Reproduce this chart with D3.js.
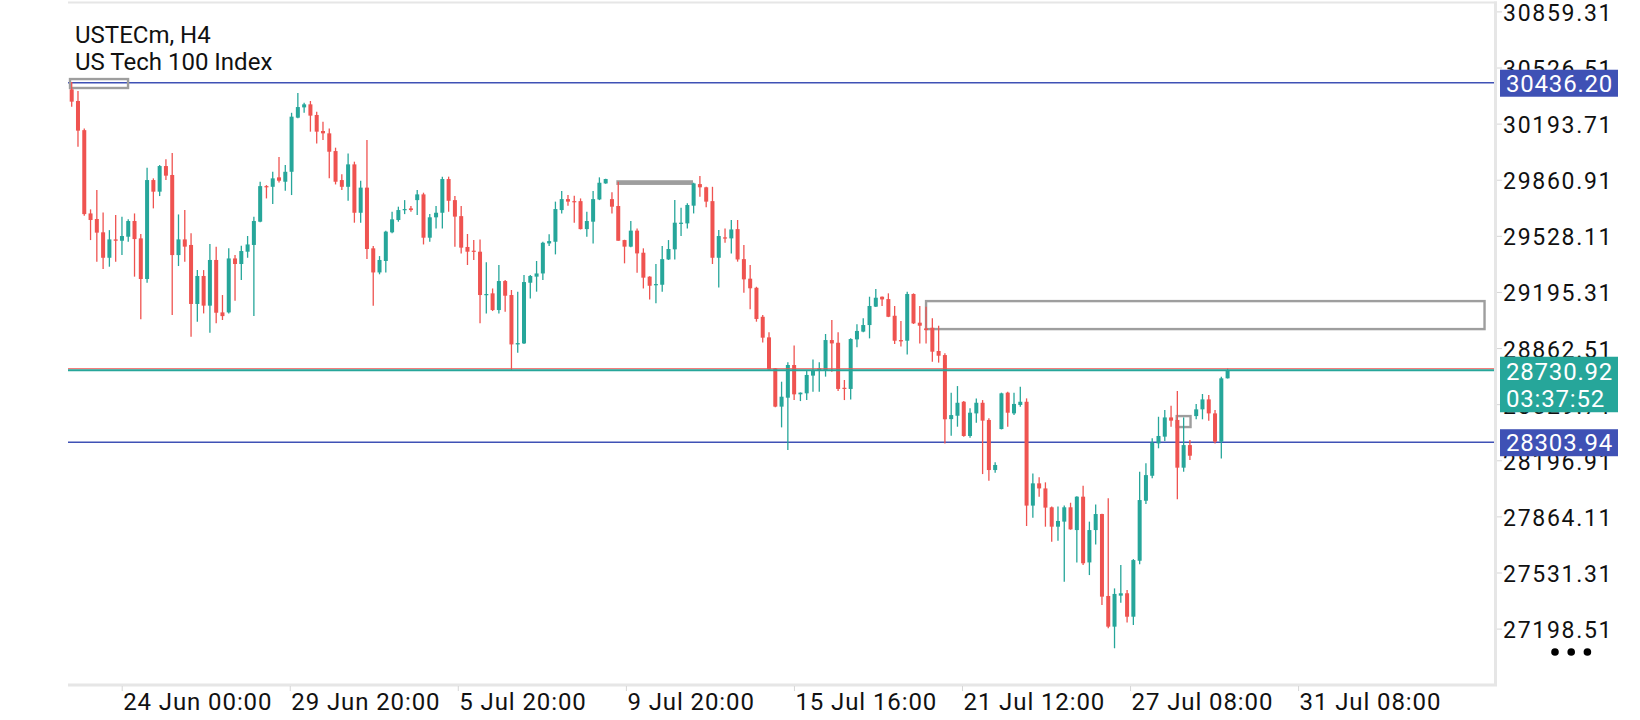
<!DOCTYPE html>
<html>
<head>
<meta charset="utf-8">
<script src="https://cdn.jsdelivr.net/npm/d3@7"></script>
<style>
  html, body { margin: 0; padding: 0; background: #fff; }
  svg text { font-family: Roboto, "Noto Sans", sans-serif; }
</style>
</head>
<body>
<svg id="chart" width="1640" height="720"></svg>
<script>
// --- data (one entry per bar) ---
const symbol = "USTECm, H4";
const description = "US Tech 100 Index";

const open = [
  30397,30328,30155,29661,29628,29549,29398,29507,29499,29523,29616,29513,29272,29859,29790,29942,29889,29414,29507,29474,
  29124,29290,29114,29385,29074,29074,29394,29361,29434,29474,29612,29823,29819,29875,29849,29908,30229,30290,30308,30245,
  30150,30136,30031,29859,29819,29952,29665,29814,29454,29311,29379,29549,29622,29681,29691,29740,29774,29517,29638,29665,
  29865,29740,29645,29462,29440,29434,29179,29187,29088,29260,29177,28884,28890,29250,29286,29305,29483,29493,29681,29746,
  29734,29734,29568,29612,29744,29839,29746,29705,29503,29464,29559,29428,29286,29238,29238,29388,29448,29602,29602,29707,
  29835,29816,29734,29398,29519,29513,29568,29390,29274,29220,29048,28926,28742,28515,28568,28762,28588,28594,28699,28732,
  28732,28910,28894,28627,28620,28914,28960,28999,29108,29167,29153,29054,28910,28906,29183,29013,28979,28983,28845,28821,
  28441,28461,28544,28341,28475,28538,28436,28139,28382,28598,28475,28525,28544,27928,28060,28030,27918,27803,27833,27918,
  27783,27981,27591,27783,27878,27392,27210,27394,27408,27269,27601,27957,28105,28297,28337,28451,28436,28153,28287,28459,
  28499,28558,28475,28307,28683
];
const high = [
  30440,30387,30165,29685,29800,29667,29562,29651,29642,29626,29661,29539,29932,29869,29948,29982,30019,29655,29681,29543,
  29325,29325,29479,29464,29177,29454,29414,29470,29527,29642,29849,29829,29908,29995,29948,30258,30375,30318,30328,30264,
  30205,30165,30051,29893,30017,29968,29855,30096,29468,29408,29559,29671,29701,29740,29705,29800,29784,29657,29705,29879,
  29879,29764,29705,29539,29503,29507,29371,29216,29355,29266,29207,29197,29296,29296,29379,29493,29537,29731,29794,29770,
  29766,29750,29671,29794,29875,29867,29786,29849,29505,29616,29572,29454,29288,29361,29468,29503,29740,29695,29721,29843,
  29883,29819,29819,29562,29572,29622,29622,29474,29355,29226,29058,28956,28744,28663,28778,28877,28599,28726,28795,28778,
  28946,29029,28956,28673,28920,29003,29039,29167,29213,29169,29187,29112,29023,29197,29187,29112,29108,29039,28995,28831,
  28598,28637,28548,28505,28564,28554,28446,28185,28598,28604,28598,28633,28564,28119,28096,28066,27922,27922,27928,27945,
  27983,28046,27833,27935,27880,27971,27437,27576,27427,27611,28129,28179,28327,28455,28495,28521,28608,28451,28317,28531,
  28590,28584,28495,28693,28741
];
const low = [
  30294,30057,29647,29503,29375,29331,29345,29375,29414,29493,29286,29033,29250,29691,29764,29859,29058,29349,29375,28930,
  29019,29068,28954,29009,29029,29068,29143,29266,29398,29052,29608,29750,29717,29845,29796,29770,30225,30258,30146,30076,
  30096,29869,29833,29800,29736,29606,29606,29390,29114,29300,29311,29543,29612,29657,29671,29651,29477,29493,29572,29572,
  29671,29464,29424,29355,29385,29009,29068,29082,29068,29078,28732,28835,28886,29157,29197,29266,29468,29418,29661,29707,
  29606,29566,29523,29483,29740,29837,29661,29499,29365,29461,29309,29216,29151,29128,29197,29385,29388,29527,29572,29661,
  29760,29697,29361,29222,29487,29424,29375,29191,29092,29019,28896,28732,28511,28392,28258,28554,28548,28554,28604,28604,
  28693,28722,28608,28554,28558,28867,28956,28920,29106,29112,29046,28886,28871,28825,29005,28890,28890,28782,28776,28297,
  28343,28396,28337,28331,28420,28115,28076,28123,28380,28396,28465,28515,27807,27856,27981,27803,27714,27720,27477,27785,
  27591,27576,27516,27698,27338,27200,27082,27352,27234,27220,27580,27937,28090,28268,28311,28396,27965,28129,28198,28440,
  28440,28432,28297,28208,28682
];
const close = [
  30324,30152,29657,29622,29547,29398,29507,29499,29527,29616,29509,29272,29859,29790,29942,29885,29414,29507,29464,29124,
  29290,29114,29385,29072,29052,29394,29361,29438,29477,29616,29823,29816,29869,29855,29908,30235,30292,30308,30241,30146,
  30136,30027,29849,29819,29952,29665,29814,29450,29311,29385,29553,29626,29681,29687,29681,29774,29517,29638,29665,29865,
  29736,29642,29458,29434,29436,29177,29183,29088,29260,29173,28884,28892,29254,29290,29305,29487,29497,29687,29746,29731,
  29731,29568,29616,29746,29843,29865,29701,29499,29464,29559,29424,29280,29232,29242,29390,29450,29606,29606,29711,29839,
  29816,29731,29398,29527,29513,29566,29388,29270,29217,29035,28924,28736,28515,28574,28762,28588,28598,28703,28732,28742,
  28910,28890,28620,28622,28916,28964,28999,29112,29161,29151,29048,28906,28902,29183,29009,28995,28969,28841,28817,28440,
  28465,28538,28341,28479,28538,28432,28139,28169,28594,28479,28531,28544,27928,28060,28030,27916,27803,27837,27918,27787,
  27981,27586,27783,27878,27388,27210,27404,27408,27269,27605,27961,28109,28301,28341,28451,28432,28153,28287,28224,28499,
  28558,28475,28307,28683,28730.92
];

const priceTicks = [30859.31, 30526.51, 30193.71, 29860.91, 29528.11, 29195.31,
                    28862.51, 28529.71, 28196.91, 27864.11, 27531.31, 27198.51];
const timeTickBars = [7.96, 34.71, 61.46, 88.22, 114.97, 141.72, 168.47, 195.22];
const timeTickLabels = ["24 Jun 00:00", "29 Jun 20:00", "5 Jul 20:00", "9 Jul 20:00",
                        "15 Jul 16:00", "21 Jul 12:00", "27 Jul 08:00", "31 Jul 08:00"];

const levelLines = [30436.20, 28303.94];
const bid = 28730.92, ask = 28739.8;
const countdown = "03:37:52";

// user drawn objects, in bar index / price units
const boxes = [
  {b0: -0.27, b1: 8.97, p0: 30458, p1: 30405},
  {b0: 136.0, b1: 224.9, p0: 29141, p1: 28975},
  {b0: 175.9, b1: 178.1, p0: 28459, p1: 28394}
];
const markerBar = {b0: 86.7, b1: 98.9, p0: 29858, p1: 29830};

// --- chart ---
const bullColor = "#26a69a", bearColor = "#ef5350", levelColor = "#3f51b5", drawColor = "#9e9e9e";
const plotLeft = 68, plotRight = 1494, plotTop = 3, plotBottom = 684;

const svg = d3.select("#chart");
const x = d3.scaleLinear().domain([0, open.length - 1]).range([71.7, 1227.6]);
const y = d3.scaleLinear().domain([27198.51, 30859.31]).range([628.6, 11.4]);

const bars = open.map((o, i) => ({i, o, h: high[i], l: low[i], c: close[i]}));

// frame
svg.append("line").attr("x1", plotLeft).attr("x2", plotRight + 3).attr("y1", 2.5).attr("y2", 2.5)
  .attr("stroke", "#e6e6e6").attr("stroke-width", 2);
svg.append("line").attr("x1", plotRight + 1.5).attr("x2", plotRight + 1.5).attr("y1", 1.5).attr("y2", plotBottom + 1.5)
  .attr("stroke", "#e6e6e6").attr("stroke-width", 3);

// price axis
const yAxis = d3.axisRight(y).tickValues(priceTicks).tickFormat(d3.format(".2f")).tickSize(5).tickSizeOuter(0);
svg.append("g").attr("transform", `translate(${plotRight + 3},0)`).call(yAxis)
  .call(g => g.select(".domain").remove())
  .call(g => g.selectAll(".tick line").attr("stroke", "#d6d6d6"))
  .call(g => g.selectAll(".tick text").attr("x", 6).attr("dy", 9)
    .attr("font-size", 23).attr("letter-spacing", 1.7).attr("fill", "#111").style("font-family", "Roboto"));

// time axis
svg.append("line").attr("x1", plotLeft).attr("x2", plotRight + 3).attr("y1", plotBottom + 1).attr("y2", plotBottom + 1)
  .attr("stroke", "#e6e6e6").attr("stroke-width", 3);
const xAxis = d3.axisBottom(x).tickValues(timeTickBars).tickFormat((d, i) => timeTickLabels[i]).tickSize(5).tickSizeOuter(0);
svg.append("g").attr("transform", `translate(0,${plotBottom + 2})`).call(xAxis)
  .call(g => g.select(".domain").remove())
  .call(g => g.selectAll(".tick line").attr("stroke", "#d6d6d6"))
  .call(g => g.selectAll(".tick text").attr("text-anchor", "start").attr("x", 1).attr("y", 24).attr("dy", 0)
    .attr("font-size", 24).attr("letter-spacing", 0.9).attr("fill", "#111").style("font-family", "Roboto"));

// horizontal levels
svg.selectAll(".level").data(levelLines).join("line").attr("class", "level")
  .attr("x1", plotLeft).attr("x2", plotRight).attr("y1", d => y(d)).attr("y2", d => y(d))
  .attr("stroke", levelColor).attr("stroke-width", 1.6);

// drawn boxes
svg.selectAll(".box").data(boxes).join("rect").attr("class", "box")
  .attr("x", d => x(d.b0)).attr("y", d => y(d.p0))
  .attr("width", d => x(d.b1) - x(d.b0)).attr("height", d => y(d.p1) - y(d.p0))
  .attr("fill", "none").attr("stroke", drawColor).attr("stroke-width", 2.4);
svg.append("rect")
  .attr("x", x(markerBar.b0)).attr("y", y(markerBar.p0))
  .attr("width", x(markerBar.b1) - x(markerBar.b0)).attr("height", y(markerBar.p1) - y(markerBar.p0))
  .attr("fill", drawColor);

// candles
const candles = svg.append("g");
candles.selectAll(".wick").data(bars).join("line").attr("class", "wick")
  .attr("x1", d => x(d.i)).attr("x2", d => x(d.i)).attr("y1", d => y(d.h)).attr("y2", d => y(d.l))
  .attr("stroke", d => d.c >= d.o ? bullColor : bearColor).attr("stroke-width", 1.3);
candles.selectAll(".body").data(bars).join("rect").attr("class", "body")
  .attr("x", d => x(d.i) - 2).attr("width", 4)
  .attr("y", d => y(Math.max(d.o, d.c)))
  .attr("height", d => Math.max(1.2, Math.abs(y(d.o) - y(d.c))))
  .attr("fill", d => d.c >= d.o ? bullColor : bearColor);

// bid / ask lines
svg.append("line").attr("x1", plotLeft).attr("x2", plotRight).attr("y1", y(ask)).attr("y2", y(ask))
  .attr("stroke", bearColor).attr("stroke-width", 1.2);
svg.append("line").attr("x1", plotLeft).attr("x2", plotRight).attr("y1", y(bid)).attr("y2", y(bid))
  .attr("stroke", bullColor).attr("stroke-width", 2.2);

// price labels on the axis
const tags = svg.append("g").attr("font-size", 24).attr("letter-spacing", 0.8).attr("fill", "#fff");
levelLines.forEach(v => {
  tags.append("rect").attr("x", 1500).attr("y", y(v) - 13).attr("width", 118).attr("height", 27).attr("fill", levelColor);
  tags.append("text").attr("x", 1506).attr("y", y(v) + 9).text(d3.format(".2f")(v));
});
tags.append("rect").attr("x", 1500).attr("y", y(bid) - 13.5).attr("width", 118).attr("height", 55.5).attr("fill", bullColor);
tags.append("text").attr("x", 1506).attr("y", y(bid) + 10).text(d3.format(".2f")(bid));
tags.append("text").attr("x", 1506).attr("y", y(bid) + 36.5).text(countdown);

// title
svg.append("text").attr("x", 75).attr("y", 42.5).attr("font-size", 24).attr("fill", "#111").text(symbol);
svg.append("text").attr("x", 75).attr("y", 69.5).attr("font-size", 24).attr("fill", "#111").text(description);

// menu dots
svg.selectAll(".dot").data([0, 1, 2]).join("circle").attr("class", "dot")
  .attr("cx", d => 1555 + d * 16.2).attr("cy", 652).attr("r", 3.8).attr("fill", "#000");
</script>
</body>
</html>
